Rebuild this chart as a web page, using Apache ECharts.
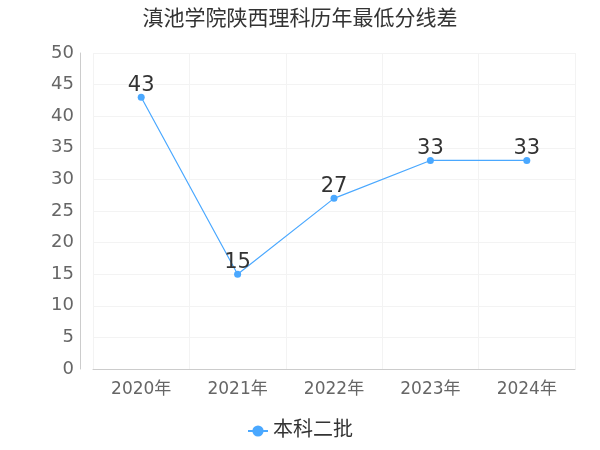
<!DOCTYPE html><html><head><meta charset="utf-8"><script src="https://cdn.jsdelivr.net/npm/echarts@6/dist/echarts.min.js"></script></head><body style="margin:0"><div id="c" style="width:600px;height:450px"></div><script>
const categories=['2020年','2021年','2022年','2023年','2024年'];
const values=[43,15,27,33,33];
const yTicks=[0,50,5];
const F='DejaVu Sans, Noto Sans CJK SC';
const ch=echarts.init(document.getElementById('c'));
ch.setOption({
textStyle:{fontFamily:F},
title:{text:'滇池学院陕西理科历年最低分线差',left:'center',top:4,textStyle:{fontSize:21,fontWeight:'normal',color:'#333',fontFamily:F}},
legend:{bottom:4,data:['本科二批'],textStyle:{fontSize:20,color:'#333',fontFamily:F},itemWidth:20,itemGap:4},
grid:{left:93,right:25,top:53,bottom:81},
xAxis:{type:'category',data:categories,boundaryGap:true,axisTick:{show:false},axisLine:{lineStyle:{color:'#ccc'}},axisLabel:{fontSize:17,color:'#666',margin:12,fontFamily:F},splitLine:{show:true,lineStyle:{color:'#f3f3f3'}}},
yAxis:{type:'value',min:yTicks[0],max:yTicks[1],interval:yTicks[2],offset:13,axisLine:{show:true,lineStyle:{color:'#ccc'}},axisLabel:{fontSize:18,color:'#666',margin:6,fontFamily:F},splitLine:{lineStyle:{color:'#f3f3f3'}}},
series:[{name:'本科二批',type:'line',data:values,color:'#4aa8ff',symbol:'circle',symbolSize:7,lineStyle:{width:1.2},label:{show:true,position:'top',fontSize:21,color:'#333',distance:-2,fontFamily:F}}]
});
</script></body></html>
